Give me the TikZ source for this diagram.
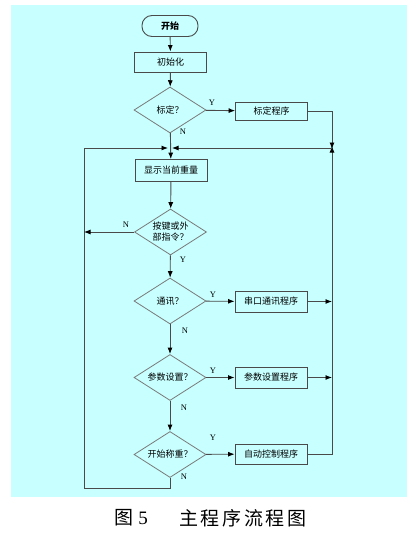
\documentclass[tikz,border=0pt]{standalone}
\usepackage{fontspec}
\setmainfont{Liberation Serif}
\newfontfamily\cjk{Noto Sans CJK SC}
\newfontfamily\capfont[LetterSpace=14]{Noto Sans CJK SC}
\usetikzlibrary{shapes.geometric,arrows.meta}
\definecolor{bgcyan}{HTML}{C8FFFF}
\definecolor{linegray}{HTML}{4A4A4A}
\definecolor{diagray}{HTML}{7A7A7A}
\tikzset{
  procbox/.style={draw=linegray, line width=0.9pt, minimum width=72pt, minimum height=20pt, inner sep=0pt, font=\cjk\fontsize{9}{10}\selectfont},
  termbox/.style={draw=linegray, line width=0.9pt, rounded corners=10pt, minimum width=56pt, minimum height=21pt, inner sep=0pt, font=\cjk\bfseries\fontsize{9}{10}\selectfont},
  decbox/.style={diamond, draw=diagray, line width=0.8pt, minimum width=72pt, minimum height=46pt, inner sep=0pt},
  dtext/.style={font=\cjk\fontsize{9}{11}\selectfont, align=center, inner sep=0pt},
  conn/.style={draw=linegray, line width=0.9pt},
  arr/.style={conn, -{Latex[length=6.5pt,width=5pt,black]}},
  yn/.style={font=\fontsize{8.5}{9}\selectfont, inner sep=0pt}
}
\begin{document}
\begin{tikzpicture}[x=1pt,y=-1pt]
\useasboundingbox (0,0) rectangle (414,533);
\fill[bgcyan] (11,5) rectangle (407,497);

\node[termbox] (start) at (170,26) {开始};
\node[procbox] (init) at (170.5,62) {初始化};
\node[decbox] (d1) at (170,110) {};
\node[dtext] (t1) at (d1.center) {标定？};
\node[procbox, minimum height=18pt] (p1) at (271.5,111) {标定程序};
\node[procbox, minimum height=22pt] (disp) at (171,170.5) {显示当前重量};
\node[decbox] (d2) at (170.5,232) {};
\node[dtext] (t2) at (d2.center) {按键或外\\部指令？};
\node[decbox] (d3) at (170,301) {};
\node[dtext] (t3) at (d3.center) {通讯？};
\node[procbox, minimum height=21pt] (p3) at (271,301.5) {串口通讯程序};
\node[decbox] (d4) at (170,377.5) {};
\node[dtext] (t4) at (d4.center) {参数设置？};
\node[procbox, minimum height=21pt] (p4) at (271,377.5) {参数设置程序};
\node[decbox] (d5) at (170,454.5) {};
\node[dtext] (t5) at (d5.center) {开始称重？};
\node[procbox, minimum height=20pt] (p5) at (271,454) {自动控制程序};

\coordinate (jr) at (332,148);
\coordinate (jc) at (170,148);
\coordinate (rtop) at (332,111);
\coordinate (rbot) at (332,454);
\coordinate (lbot) at (84,488);
\coordinate (ltop) at (84,148);
\coordinate (cbot) at (170,488);
\coordinate (lmid) at (84,232);
\coordinate (r3) at (332,301.5);
\coordinate (r4) at (332,377.5);

\draw[arr] (start) -- (init);
\draw[arr] (init) -- (d1);
\draw[arr] (d1) -- (p1);
\draw[arr] (d1) -- (disp);
\draw[arr] (p1) -- (rtop) -- ([yshift=-1pt]jr);
\draw[arr] (p5) -- (rbot) -- ([yshift=2pt]jr);
\draw[arr] (jr) -- ([xshift=2pt]jc);
\draw[arr] (d5) -- (cbot) -- (lbot) -- (ltop) -- ([xshift=-2pt]jc);
\draw[arr] (disp) -- (d2);
\draw[arr] (d2) -- (lmid);
\draw[arr] (d2) -- (d3);
\draw[arr] (d3) -- (p3);
\draw[arr] (p3) -- (r3);
\draw[arr] (d3) -- (d4);
\draw[arr] (d4) -- (p4);
\draw[arr] (p4) -- (r4);
\draw[arr] (d4) -- (d5);
\draw[arr] (d5) -- (p5);

\node[yn] (y1) at (212,103) {Y};
\node[yn] (n1) at (183,132) {N};
\node[yn] (n2) at (126,225) {N};
\node[yn] (y2) at (183,260) {Y};
\node[yn] (y3) at (213,295) {Y};
\node[yn] (n3) at (185,331) {N};
\node[yn] (y4) at (213,371) {Y};
\node[yn] (n4) at (184,408) {N};
\node[yn] (y5) at (213,438) {Y};
\node[yn] (n5) at (184,477) {N};

\node[font=\capfont\fontsize{19}{20}\selectfont, inner sep=0pt] (cap1) at (124,518) {图};
\node[font=\fontsize{19}{20}\selectfont, inner sep=0pt] (cap2) at (143,518.5) {5};
\node[font=\capfont\fontsize{19}{20}\selectfont, inner sep=0pt, anchor=west] (cap3) at (179,518) {主程序流程图};
\end{tikzpicture}
\end{document}
